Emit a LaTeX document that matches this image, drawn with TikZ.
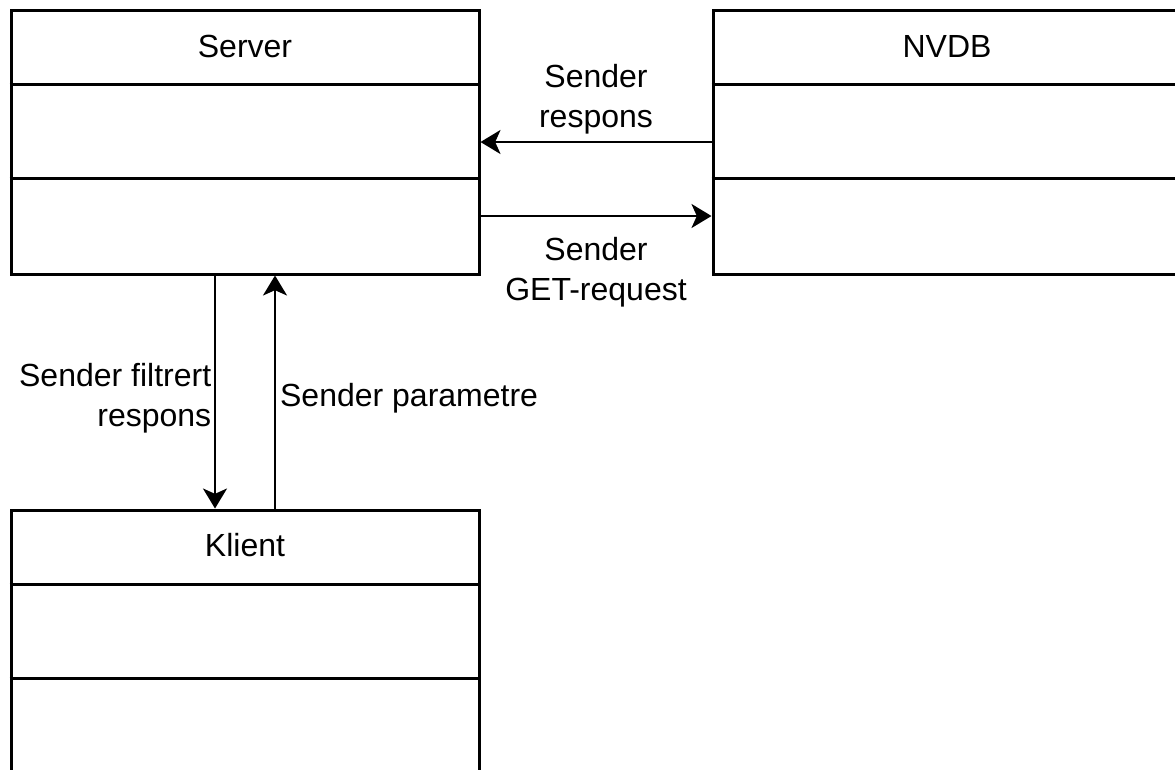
\documentclass[tikz,border=0pt]{standalone}
\usepackage{fontspec}
\setmainfont{Liberation Sans}
\usetikzlibrary{arrows.meta,calc}
\tikzstyle{arr}=[-{Stealth[length=15pt,width=18pt,inset=4pt]},line width=1.7pt]
\tikzstyle{classbox}=[draw,line width=2.25pt,minimum width=351pt,minimum height=198pt,inner sep=0pt]
\tikzstyle{lbl}=[font=\fontsize{24}{30}\selectfont,align=center]

\begin{document}
\begin{tikzpicture}[x=0.75pt,y=-0.75pt]
\useasboundingbox (0,0) rectangle (1175,769);
\clip (0,0) rectangle (1175,769);
\def\compart#1{\draw[line width=2.25pt] ($(#1.north west)+(0,76)$) -- ($(#1.north east)+(0,76)$);
  \draw[line width=2.25pt] ($(#1.north west)+(0,170)$) -- ($(#1.north east)+(0,170)$);}
\node[classbox] (server) at (245,142) {};
\node[classbox] (nvdb) at (947,142) {};
\node[classbox] (klient) at (245,642) {};
\compart{server} \compart{nvdb} \compart{klient}
\node[lbl] (servertitle) at ($(server.north)+(0,38)$) {Server};
\node[lbl] (nvdbtitle) at ($(nvdb.north)+(0,38)$) {NVDB};
\node[lbl] (klienttitle) at ($(klient.north)+(0,37)$) {Klient};
% server <-> nvdb
\draw[arr] (nvdb.west) -- node[lbl,above=1.5pt] (resplbl) {Sender\\respons} (server.east);
\draw[arr] ($(server.east)+(0,74)$) -- node[lbl,below=12pt] (getlbl) {Sender\\GET-request} ($(nvdb.west)+(0,74)$);
% server <-> klient
\draw[arr] ($(server.south)+(-30,0)$) -- node[lbl,left,align=right,inner sep=2pt,yshift=-5pt] (filtlbl) {Sender filtrert\\respons} ($(klient.north)+(-30,0)$);
\draw[arr] ($(klient.north)+(30,0)$) -- node[lbl,right,inner sep=3pt,yshift=-5pt] (paramlbl) {Sender parametre} ($(server.south)+(30,0)$);
\end{tikzpicture}
\end{document}
